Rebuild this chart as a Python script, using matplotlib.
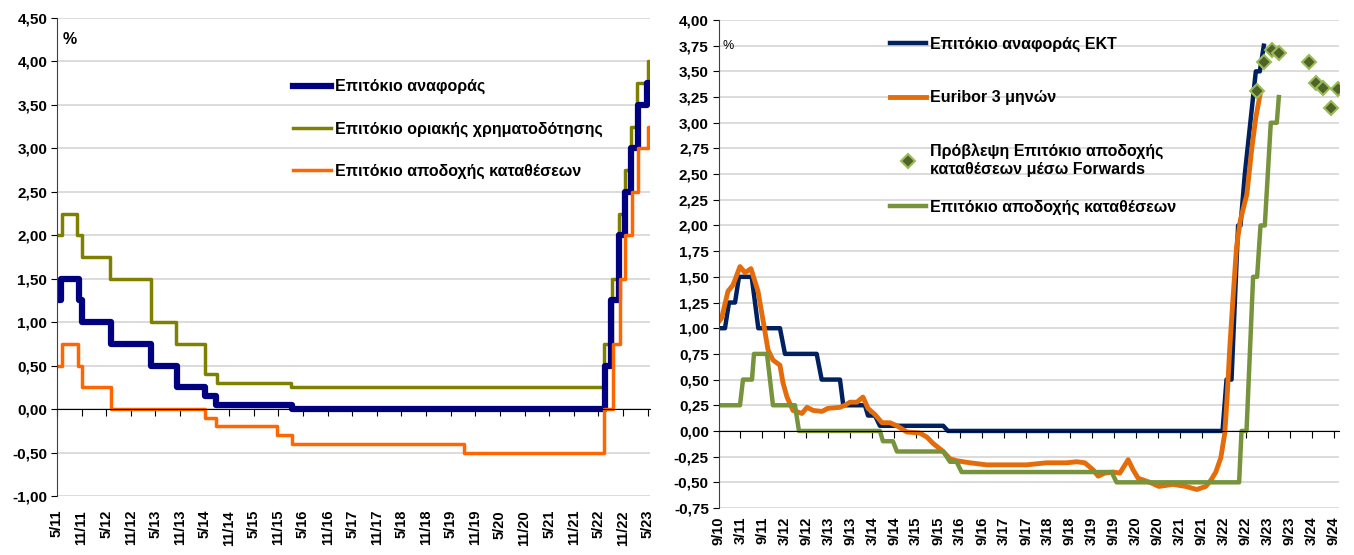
import matplotlib
matplotlib.use('Agg')
import matplotlib.pyplot as plt
from matplotlib.ticker import FuncFormatter, MultipleLocator

plt.rcParams['font.family'] = ['Liberation Sans', 'DejaVu Sans']
plt.rcParams['font.weight'] = 'bold'

# ---- left chart: ECB rates, months since 5/2011 (change points) ----
left_labels = ['5/11', '11/11', '5/12', '11/12', '5/13', '11/13', '5/14', '11/14',
               '5/15', '11/15', '5/16', '11/16', '5/17', '11/17', '5/18', '11/18',
               '5/19', '11/19', '5/20', '11/20', '5/21', '11/21', '5/22', '11/22', '5/23']

mro_x = [0, 1.0, 5.3, 6.2, 13.2, 23.0, 29.3, 36.2, 38.8, 57.4,
         133.7, 135.0, 137.0, 138.5, 139.9, 141.6, 143.9, 144.3]
mro_y = [1.25, 1.50, 1.25, 1.00, 0.75, 0.50, 0.25, 0.15, 0.05, 0.00,
         0.50, 1.25, 2.00, 2.50, 3.00, 3.50, 3.75, 3.75]

mlf_x = [0, 1.15, 4.9, 6.1, 13.0, 22.8, 29.1, 36.0, 38.9, 57.1,
         133.5, 135.3, 137.1, 138.4, 139.9, 141.5, 144.0, 144.3]
mlf_y = [2.00, 2.25, 2.00, 1.75, 1.50, 1.00, 0.75, 0.40, 0.30, 0.25,
         0.75, 1.50, 2.25, 2.75, 3.25, 3.75, 4.00, 4.00]

df_x = [0, 1.1, 5.1, 6.1, 13.2, 36.2, 38.8, 53.7, 57.4, 99.3,
        133.4, 135.5, 137.3, 138.6, 140.1, 141.7, 144.0, 144.3]
df_y = [0.50, 0.75, 0.50, 0.25, 0.00, -0.10, -0.20, -0.30, -0.40, -0.50,
        0.00, 0.75, 1.50, 2.00, 2.50, 3.00, 3.25, 3.25]

# ---- right chart: months since 9/2010 ----
right_labels = ['9/10', '3/11', '9/11', '3/12', '9/12', '3/13', '9/13', '3/14', '9/14',
                '3/15', '9/15', '3/16', '9/16', '3/17', '9/17', '3/18', '9/18', '3/19',
                '9/19', '3/20', '9/20', '3/21', '9/21', '3/22', '9/22', '3/23', '9/23',
                '3/24', '9/24']

ecb_x = [0, 1.77, 2.87, 4.51, 5.60, 9.07, 10.87, 16.79, 18.16, 26.82, 28.18, 33.18,
         34.08, 40.01, 40.83, 42.74, 44.10, 61.39, 62.67, 137.68, 138.78, 140.14,
         141.94, 142.60, 143.77, 146.78, 147.87, 148.96]
ecb_y = [1.00, 1.00, 1.25, 1.25, 1.50, 1.50, 1.00, 1.00, 0.75, 0.75, 0.50, 0.50,
         0.25, 0.25, 0.15, 0.15, 0.05, 0.05, 0.00, 0.00, 0.50, 0.50,
         2.00, 2.00, 2.50, 3.50, 3.50, 3.75]

eur_x = [0, 0.87, 2.59, 3.96, 5.87, 7.24, 8.87, 10.79, 12.15, 13.52, 14.88, 16.79,
         17.61, 18.71, 20.34, 22.80, 24.17, 25.81, 28.26, 29.90, 33.18, 34.54, 35.91,
         37.82, 39.46, 40.83, 42.74, 44.65, 46.83, 48.74, 51.47, 55.02, 56.93, 58.57,
         61.39, 63.22, 65.05, 68.68, 73.24, 78.70, 84.16, 89.62, 95.09, 97.82, 100.08,
         102.35, 103.71, 105.54, 107.81, 109.64, 111.91, 113.27, 114.64, 117.83, 120.29,
         124.11, 127.66, 130.66, 133.12, 134.49, 135.85, 137.22, 138.31, 138.94, 139.68,
         140.58, 141.51, 142.54, 144.32, 145.68, 146.78, 147.87]
eur_y = [1.06, 1.10, 1.36, 1.42, 1.60, 1.54, 1.58, 1.36, 1.08, 0.79, 0.69, 0.64,
         0.47, 0.33, 0.20, 0.17, 0.23, 0.20, 0.19, 0.22, 0.23, 0.25, 0.28,
         0.28, 0.33, 0.22, 0.16, 0.08, 0.08, 0.05, -0.01, -0.02, -0.06, -0.12,
         -0.20, -0.27, -0.29, -0.31, -0.33, -0.33, -0.33, -0.31, -0.31, -0.30, -0.31,
         -0.38, -0.44, -0.41, -0.40, -0.41, -0.28, -0.38, -0.46, -0.50, -0.54,
         -0.52, -0.54, -0.57, -0.54, -0.48, -0.40, -0.26, -0.02, 0.33, 0.82,
         1.31, 1.79, 2.05, 2.30, 2.75, 3.05, 3.26]

fwd_x = [147.05, 148.96, 151.1, 153.1, 161.3, 163.2, 165.1, 167.3, 169.2]
fwd_y = [3.31, 3.59, 3.71, 3.68, 3.59, 3.39, 3.34, 3.14, 3.33]

dep_x = [0, 5.87, 6.69, 9.15, 9.69, 13.24, 14.88, 20.89, 21.98, 44.10, 44.92, 47.65,
         48.74, 61.39, 63.22, 65.05, 66.41, 107.37, 108.74, 142.22, 142.87, 144.24,
         146.04, 147.13, 148.06, 149.23, 150.87, 152.51, 153.06]
dep_y = [0.25, 0.25, 0.50, 0.50, 0.75, 0.75, 0.25, 0.25, 0.00, 0.00, -0.10, -0.10,
         -0.20, -0.20, -0.30, -0.30, -0.40, -0.40, -0.50, -0.50, 0.00, 0.00,
         1.50, 1.50, 2.00, 2.00, 3.00, 3.00, 3.25]


def comma(v, pos):
    return f"{v:.2f}".replace('.', ',')


def style(ax, ymin, ymax, step, xmax, labels, pad):
    ticks = [6 * i for i in range(len(labels))]
    ax.set_xlim(0, xmax)
    ax.set_ylim(ymin, ymax)
    ax.yaxis.set_major_locator(MultipleLocator(step))
    ax.yaxis.set_major_formatter(FuncFormatter(comma))
    ax.grid(axis='y', color='#d9d9d9', lw=1.3)
    ax.set_axisbelow(True)
    for s in ('top', 'right'):
        ax.spines[s].set_visible(False)
    ax.spines['left'].set_color('#404040')
    ax.spines['bottom'].set_position(('data', 0))
    ax.spines['bottom'].set_color('black')
    ax.set_xticks(ticks)
    ax.tick_params(axis='x', labelbottom=False, length=5, direction='out')
    ax.tick_params(axis='y', length=4, labelsize=11, pad=3)
    sec = ax.secondary_xaxis('bottom')
    sec.set_xticks(ticks, labels)
    sec.tick_params(length=0, rotation=90, labelsize=10.5, pad=pad)
    sec.spines['bottom'].set_visible(False)


fig = plt.figure(figsize=(13.54, 5.55), dpi=100)
ax1 = fig.add_axes([57 / 1354, 1 - 496 / 555, 593 / 1354, 478 / 555])
ax2 = fig.add_axes([718.5 / 1354, 1 - 508 / 555, 620.5 / 1354, 488 / 555])

# left
ax1.step(mlf_x, mlf_y, where='post', color='#808000', lw=2.5, label='Επιτόκιο οριακής χρηματοδότησης')
ax1.step(mro_x, mro_y, where='post', color='#000080', lw=4.5, label='Επιτόκιο αναφοράς')
ax1.step(df_x, df_y, where='post', color='#ff6600', lw=2.5, label='Επιτόκιο αποδοχής καταθέσεων')
style(ax1, -1.0, 4.5, 0.5, 144.6, left_labels, 10)
ax1.text(0.009, 0.955, '%', transform=ax1.transAxes, fontsize=11.5, va='center')
h, l = ax1.get_legend_handles_labels()
order = [1, 0, 2]
ax1.legend([h[i] for i in order], [l[i] for i in order], loc='upper left',
           bbox_to_anchor=(0.398, 0.872), frameon=False, borderpad=0, borderaxespad=0,
           handlelength=2.4, handletextpad=0.2, labelspacing=1.7,
           prop={'size': 11.5, 'weight': 'bold'})

# right
l1, = ax2.plot(ecb_x, ecb_y, color='#002060', lw=3.2, label='Επιτόκιο αναφοράς ΕΚΤ')
l2, = ax2.plot(eur_x, eur_y, color='#e46c0a', lw=3.5, label='Euribor 3 μηνών')
l3, = ax2.plot(fwd_x, fwd_y, ls='none', marker='D', ms=7, mfc='#4f6228', mec='#9bbb59',
               mew=1.5, label='Πρόβλεψη Επιτόκιο αποδοχής\nκαταθέσεων μέσω Forwards')
l4, = ax2.plot(dep_x, dep_y, color='#77933c', lw=3.2, label='Επιτόκιο αποδοχής καταθέσεων')
style(ax2, -0.75, 4.0, 0.25, 169.5, right_labels, 6)
ax2.text(0.006, 0.947, '%', transform=ax2.transAxes, fontsize=9, fontweight='normal', va='center')
leg = ax2.legend([l1, l2, l3], [l1.get_label(), l2.get_label(), l3.get_label()],
                 loc='upper left', bbox_to_anchor=(0.276, 0.966), frameon=False,
                 borderpad=0, borderaxespad=0, handlelength=2.3, handletextpad=0.2,
                 labelspacing=2.4, prop={'size': 11.5, 'weight': 'bold'})
ax2.add_artist(leg)
ax2.legend([l4], [l4.get_label()], loc='upper left', bbox_to_anchor=(0.276, 0.632),
           frameon=False, borderpad=0, borderaxespad=0, handlelength=2.3,
           handletextpad=0.2, prop={'size': 11.5, 'weight': 'bold'})

fig.savefig('out.png', dpi=100)
